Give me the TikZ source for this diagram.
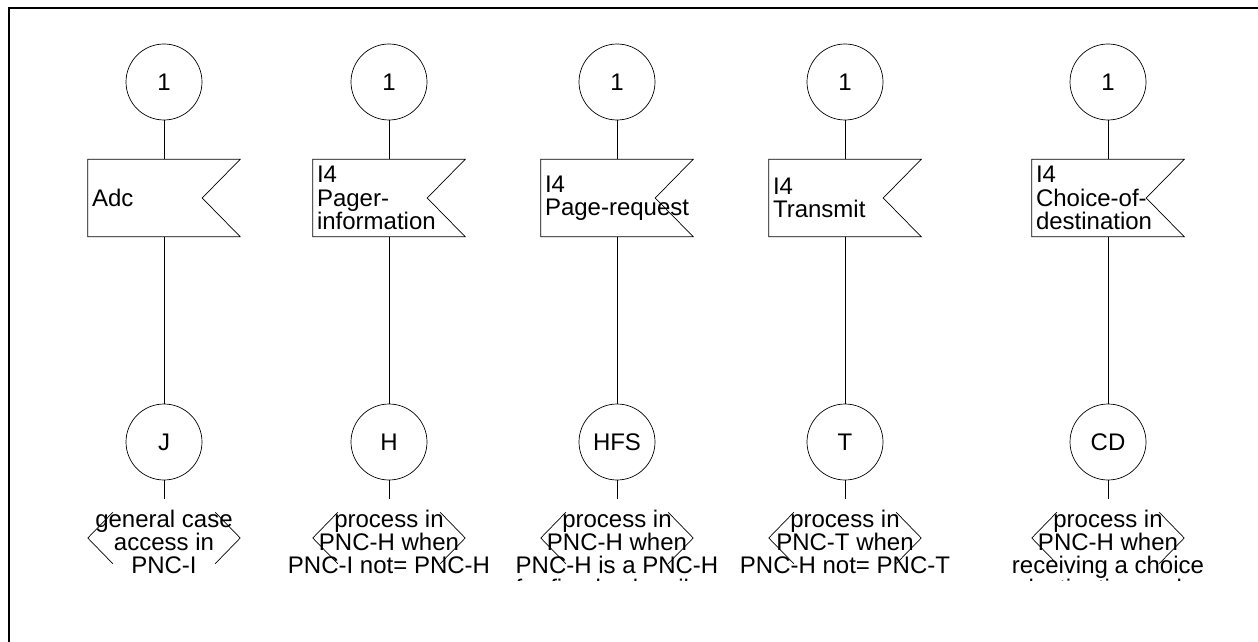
\documentclass[tikz,border=0pt]{standalone}
\usepackage{fontspec}
\setmainfont{Liberation Sans}
\usetikzlibrary{calc}
\begin{document}
\begin{tikzpicture}[x=1pt,y=-1pt,
  conn/.style={draw, circle, minimum size=76pt, inner sep=0pt, line width=0.7pt, font=\fontsize{24}{23.3}\selectfont},
  flagbox/.style={minimum width=152pt, minimum height=77pt, inner sep=0pt},
  hexbox/.style={minimum width=152pt, minimum height=51pt, inner sep=0pt},
  lbl/.style={inner sep=0pt, font=\fontsize{24}{23.3}\selectfont},
  edge/.style={line width=0.7pt},
  frame/.style={line width=2pt}]
\useasboundingbox (0,0) rectangle (1258,642);
\draw[frame] (9,650) -- (9,8) -- (1270,8);
\foreach \i/\x/\ftext/\blab/\htext/\hy in {
  1/164/{Adc}/J/{general case\\access in\\PNC-I}/573.6,
  2/389/{I4\\Pager-\\information}/H/{process in\\PNC-H when\\PNC-I not= PNC-H}/573.6,
  3/617/{I4\\Page-request}/HFS/{process in\\PNC-H when\\PNC-H is a PNC-H\\for fixed subscriber}/596.9,
  4/845/{I4\\Transmit}/T/{process in\\PNC-T when\\PNC-H not= PNC-T}/573.6,
  5/1108/{I4\\Choice-of-\\destination}/CD/{process in\\PNC-H when\\receiving a choice\\destination code}/596.9}{
  \node[conn] (t\i) at (\x,82) {1};
  \node[flagbox] (f\i) at (\x,198) {};
  \draw[edge] (f\i.north west) -- (f\i.north east) -- ($(f\i.east)+(-38,0)$) -- (f\i.south east) -- (f\i.south west) -- cycle;
  \node[lbl, anchor=west, align=left] (ft\i) at ($(f\i.west)+(4,0)$) {\ftext};
  \node[conn] (b\i) at (\x,442) {\blab};
  \node[hexbox] (h\i) at (\x,538) {};
  \coordinate (he\i) at (\x,499);
  \draw[edge] ($(h\i.north west)+(25,0)$) -- (h\i.west) -- ($(h\i.south west)+(25,0)$);
  \draw[edge] ($(h\i.north east)+(-25,0)$) -- (h\i.east) -- ($(h\i.south east)+(-25,0)$);
  \begin{scope}
    \clip (0,499) rectangle (1258,580);
    \node[lbl, anchor=base, align=center] (ht\i) at (\x,\hy) {\htext};
  \end{scope}
  \draw[edge] (t\i) -- (f\i);
  \draw[edge] (f\i) -- (b\i);
  \draw[edge] (b\i) -- (he\i);
}
\end{tikzpicture}
\end{document}
